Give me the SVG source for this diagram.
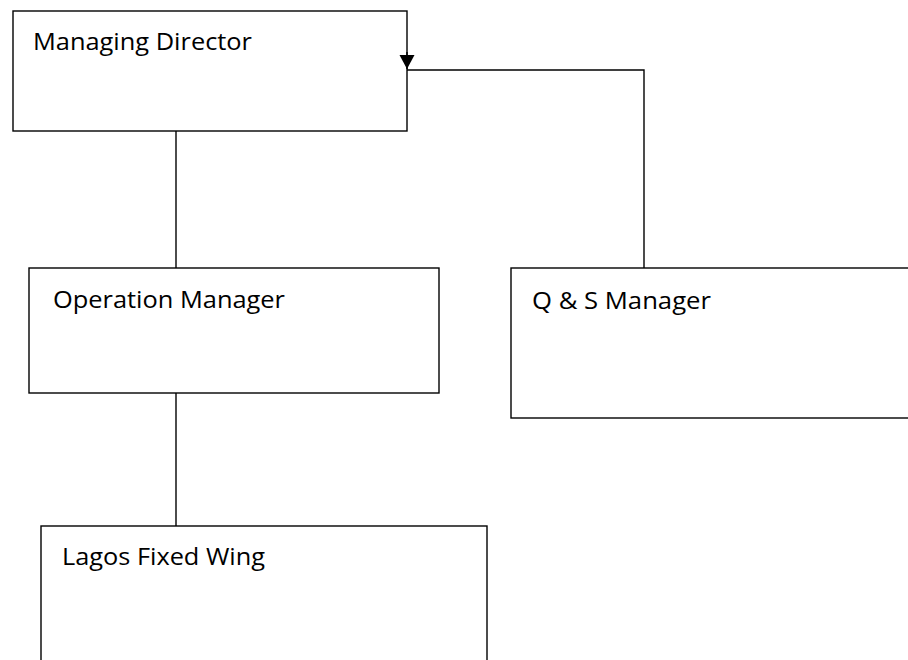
<svg xmlns="http://www.w3.org/2000/svg" width="908" height="660" viewBox="0 0 908 660">
<style>
.box{fill:#fff;stroke:#000;stroke-width:1.4}
.lbl{font-family:"Open Sans","Liberation Sans",sans-serif;font-size:23px;fill:#000}
.conn{fill:none;stroke:#000;stroke-width:1.4}
</style>
<defs>
<marker id="arr" markerWidth="16" markerHeight="16" refX="14" refY="7.5" orient="auto" markerUnits="userSpaceOnUse">
<path d="M0,0 L14,7.5 L0,15 Z" fill="#000"/>
</marker>
</defs>
<rect width="908" height="660" fill="#fff"/>
<g id="managing-director">
<rect class="box" x="13" y="11" width="394" height="120"/>
<text class="lbl" x="33" y="50" textLength="219" lengthAdjust="spacingAndGlyphs">Managing Director</text>
</g>
<g id="operation-manager">
<rect class="box" x="29" y="268" width="410" height="125"/>
<text class="lbl" x="53" y="308" textLength="232" lengthAdjust="spacingAndGlyphs">Operation Manager</text>
</g>
<g id="qs-manager">
<rect class="box" x="511" y="268" width="420" height="150"/>
<text class="lbl" x="532" y="309" textLength="179" lengthAdjust="spacingAndGlyphs">Q &amp; S Manager</text>
</g>
<g id="lagos-fixed-wing">
<rect class="box" x="41" y="526" width="446" height="150"/>
<text class="lbl" x="62" y="565" textLength="203" lengthAdjust="spacingAndGlyphs">Lagos Fixed Wing</text>
</g>
<g id="connectors">
<line class="conn" x1="176" y1="131" x2="176" y2="268"/>
<line class="conn" x1="176" y1="393" x2="176" y2="526"/>
<polyline class="conn" points="644,268 644,70 407,70"/>
<line class="conn" x1="407" y1="52" x2="407" y2="69" marker-end="url(#arr)"/>
</g>
</svg>
